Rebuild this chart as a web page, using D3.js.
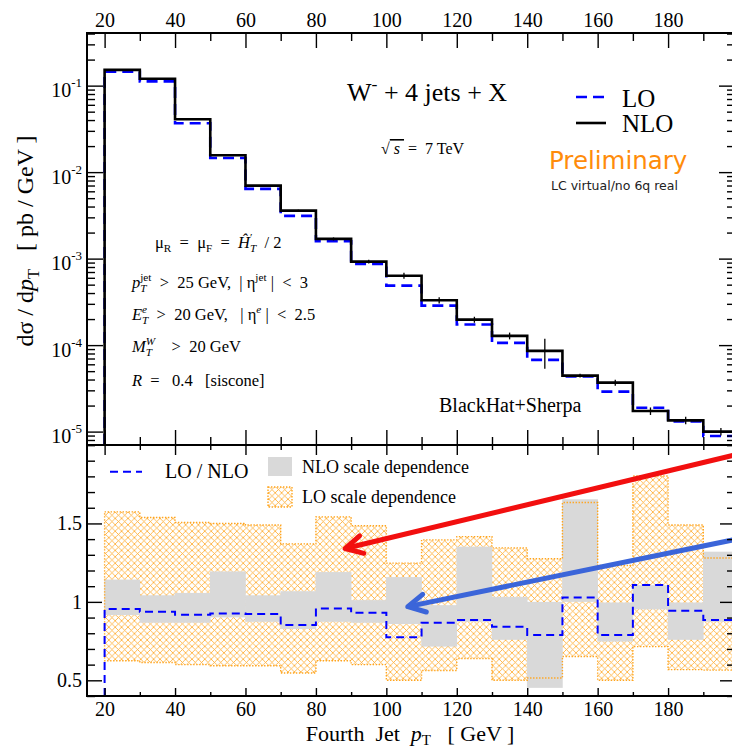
<!DOCTYPE html>
<html>
<head>
<meta charset="utf-8">
<script src="https://cdn.jsdelivr.net/npm/d3@7"></script>
<style>
  body { margin: 0; background: #fff; }
  svg text { font-family: "Liberation Serif", "Times New Roman", serif; fill: #000; }
  .tick line { stroke: #000; stroke-width: 1.4; }
  .domain { display: none; }
</style>
</head>
<body>
<svg id="chart" width="732" height="750"></svg>
<script>
// bin edges of the fourth jet pT histogram (GeV)
const binEdges = [20, 30, 40, 50, 60, 70, 80, 90, 100, 110, 120, 130, 140, 150, 160, 170, 180, 190, 200];

// upper panel, dsigma/dpT in pb/GeV
const nloXs = [0.152, 0.120, 0.0408, 0.01567, 0.00698, 0.00359, 0.00169, 0.000923, 0.000635,
  0.000330, 0.000197, 0.000128, 8.57e-5, 4.44e-5, 3.68e-5, 1.73e-5, 1.35e-5, 1.0e-5];
const loXs = [0.145, 0.112, 0.0367, 0.01459, 0.0064, 0.00312, 0.00159, 0.000869, 0.000487,
  0.000286, 0.000173, 0.000106, 6.75e-5, 4.35e-5, 2.90e-5, 1.89e-5, 1.31e-5, 8.9e-6];
// relative statistical error of NLO
const nloErr = [0.01, 0.01, 0.01, 0.01, 0.02, 0.02, 0.04, 0.05, 0.08,
  0.08, 0.08, 0.09, 0.38, 0.05, 0.08, 0.1, 0.1, 0.1];

// lower panel, ratios to NLO
const ratioLoNlo = [0.954, 0.937, 0.918, 0.926, 0.922, 0.853, 0.958, 0.93, 0.775,
  0.867, 0.884, 0.842, 0.789, 1.028, 0.789, 1.108, 0.943, 0.884];
const nloBandHi = [1.142, 1.042, 1.057, 1.194, 1.042, 1.068, 1.19, 1.011, 1.158,
  0.979, 1.352, 1.032, 1.0, 1.654, 0.996, 1.106, 0.996, 1.32];
const nloBandLo = [0.916, 0.867, 0.867, 0.901, 0.873, 0.827, 0.873, 0.867, 0.859,
  0.715, 0.873, 0.758, 0.452, 1.0, 0.747, 0.952, 0.758, 0.873];
const loBandHi = [1.574, 1.538, 1.506, 1.5, 1.49, 1.37, 1.542, 1.485, 1.247,
  1.395, 1.416, 1.344, 1.275, 1.633, 1.232, 1.802, 1.49, 1.28];
const loBandLo = [0.625, 0.614, 0.6, 0.593, 0.593, 0.547, 0.625, 0.6, 0.5,
  0.563, 0.639, 0.5, 0.515, 0.652, 0.5, 0.715, 0.568, 0.565];

// axis ticks
const xMajor = [20, 40, 60, 80, 100, 120, 140, 160, 180];
const xMinor = [30, 50, 70, 90, 110, 130, 150, 170, 190];
const logDecades = [-5, -4, -3, -2, -1];
const ratioMajor = [0.5, 1, 1.5];

// annotation arrows, in (GeV, ratio)
const arrows = [
  {from: [199.5, 1.94], to: [88.3, 1.34], color: '#f20f0f', id: 'arrRed'},
  {from: [199.5, 1.40], to: [106.1, 0.97], color: '#3b65d9', id: 'arrBlue'}
];

const orange = '#ffa51f';
const frame = {left: 87, right: 735, top: 33, mid: 445, bottom: 696};

const svg = d3.select('#chart');
const defs = svg.append('defs');

const pat = defs.append('pattern').attr('id', 'hatch')
  .attr('patternUnits', 'userSpaceOnUse').attr('width', 6.4).attr('height', 6.4);
pat.append('path').attr('d', 'M0,0L6.4,6.4M6.4,0L0,6.4')
  .attr('stroke', orange).attr('stroke-width', 0.75).attr('fill', 'none');

arrows.forEach(a => {
  defs.append('marker').attr('id', a.id)
    .attr('markerUnits', 'userSpaceOnUse').attr('viewBox', '-22 -12 26 24')
    .attr('markerWidth', 26).attr('markerHeight', 24)
    .attr('refX', 0).attr('refY', 0).attr('orient', 'auto')
    .append('path').attr('d', 'M-17,-9L0,0L-17,9')
    .attr('fill', 'none').attr('stroke', a.color)
    .attr('stroke-width', 5).attr('stroke-linecap', 'round').attr('stroke-linejoin', 'round');
});

defs.append('clipPath').attr('id', 'clipUp').append('rect')
  .attr('x', frame.left).attr('y', frame.top)
  .attr('width', frame.right - frame.left).attr('height', frame.mid - frame.top);
defs.append('clipPath').attr('id', 'clipLow').append('rect')
  .attr('x', frame.left).attr('y', frame.mid)
  .attr('width', frame.right - frame.left).attr('height', frame.bottom - frame.mid);

const x = d3.scaleLinear().domain([15, 199]).range([frame.left, frame.right]);
const yTop = d3.scaleLog().domain([7.0e-6, 0.406]).range([frame.mid, frame.top]);
const yLow = d3.scaleLinear().domain([0.4, 2.0]).range([frame.bottom, frame.mid]);

const bins = binEdges.slice(0, -1).map((x0, i) => ({
  x0, x1: binEdges[i + 1], nlo: nloXs[i], lo: loXs[i], err: nloErr[i],
  ratio: ratioLoNlo[i], nHi: nloBandHi[i], nLo: nloBandLo[i], lHi: loBandHi[i], lLo: loBandLo[i]
}));
const lastEdge = binEdges[binEdges.length - 1];

// step points: start from the panel floor, close at last edge
const stepPts = (vals, floor) => [[binEdges[0], floor]]
  .concat(vals.map((v, i) => [binEdges[i], v]))
  .concat([[lastEdge, vals[vals.length - 1]]]);

// ---------- upper panel
const up = svg.append('g').attr('clip-path', 'url(#clipUp)');
const lineUp = d3.line().x(d => x(d[0])).y(d => yTop(d[1])).curve(d3.curveStepAfter);

up.append('path').attr('d', lineUp(stepPts(loXs, yTop.domain()[0])))
  .attr('fill', 'none').attr('stroke', '#0000ff').attr('stroke-width', 2.6)
  .attr('stroke-dasharray', '11,6');
up.append('path').attr('d', lineUp(stepPts(nloXs, yTop.domain()[0])))
  .attr('fill', 'none').attr('stroke', '#000').attr('stroke-width', 2.6);
up.selectAll('line.err').data(bins).join('line').attr('class', 'err')
  .attr('x1', d => x((d.x0 + d.x1) / 2)).attr('x2', d => x((d.x0 + d.x1) / 2))
  .attr('y1', d => yTop(d.nlo * (1 + d.err))).attr('y2', d => yTop(d.nlo * (1 - d.err)))
  .attr('stroke', '#000').attr('stroke-width', 1.3);

// ---------- lower panel
const low = svg.append('g').attr('clip-path', 'url(#clipLow)');
low.selectAll('rect.loband').data(bins).join('rect').attr('class', 'loband')
  .attr('x', d => x(d.x0)).attr('width', d => x(d.x1) - x(d.x0))
  .attr('y', d => yLow(d.lHi)).attr('height', d => yLow(d.lLo) - yLow(d.lHi))
  .attr('fill', 'url(#hatch)');
low.selectAll('rect.nloband').data(bins).join('rect').attr('class', 'nloband')
  .attr('x', d => x(d.x0) - 0.3).attr('width', d => x(d.x1) - x(d.x0) + 0.6)
  .attr('y', d => yLow(d.nHi)).attr('height', d => yLow(d.nLo) - yLow(d.nHi))
  .attr('fill', '#d9d9d9');

const bandPts = bins.map(d => [d.x0, d.lLo, d.lHi]).concat([[lastEdge, loBandLo[loBandLo.length - 1], loBandHi[loBandHi.length - 1]]]);
low.append('path')
  .attr('d', d3.area().x(d => x(d[0])).y0(d => yLow(d[1])).y1(d => yLow(d[2])).curve(d3.curveStepAfter)(bandPts))
  .attr('fill', 'none').attr('stroke', orange).attr('stroke-width', 1.4).attr('stroke-dasharray', '1.4,1.6');

const lineLow = d3.line().x(d => x(d[0])).y(d => yLow(d[1])).curve(d3.curveStepAfter);
low.append('path').attr('d', lineLow(stepPts(ratioLoNlo, yLow.domain()[0])))
  .attr('fill', 'none').attr('stroke', '#0000ff').attr('stroke-width', 2)
  .attr('stroke-dasharray', '8,5');

svg.selectAll('line.arrow').data(arrows).join('line').attr('class', 'arrow')
  .attr('x1', d => x(d.from[0])).attr('y1', d => yLow(d.from[1]))
  .attr('x2', d => x(d.to[0])).attr('y2', d => yLow(d.to[1]))
  .attr('stroke', d => d.color).attr('stroke-width', 5)
  .attr('marker-end', d => `url(#${d.id})`);

// ---------- axes
const axisG = (ty, tx) => svg.append('g').attr('transform', `translate(${tx || 0},${ty || 0})`);
const styleLabels = g => g.attr('font-size', 20).attr('font-family', null);

axisG(frame.top).call(d3.axisTop(x).tickValues(xMajor).tickSize(-15).tickPadding(6).tickFormat(d3.format('d'))).call(styleLabels);
axisG(frame.top).call(d3.axisTop(x).tickValues(xMinor).tickSize(-8).tickFormat(''));
axisG(frame.mid).call(d3.axisBottom(x).tickValues(xMajor).tickSize(-15).tickFormat(''));
axisG(frame.mid).call(d3.axisBottom(x).tickValues(xMinor).tickSize(-8).tickFormat(''));
axisG(frame.mid).call(d3.axisTop(x).tickValues(xMajor).tickSize(-10).tickFormat(''));
axisG(frame.mid).call(d3.axisTop(x).tickValues(xMinor).tickSize(-5).tickFormat(''));
axisG(frame.bottom).call(d3.axisBottom(x).tickValues(xMajor).tickSize(-8).tickPadding(6).tickFormat(d3.format('d'))).call(styleLabels);
axisG(frame.bottom).call(d3.axisBottom(x).tickValues(xMinor).tickSize(-4).tickFormat(''));

const logTicks = yTop.ticks();
const logMajor = logTicks.filter(v => Math.abs(Math.log10(v) - Math.round(Math.log10(v))) < 1e-6);
const logMinor = logTicks.filter(v => !logMajor.includes(v));
[[frame.left, d3.axisLeft], [frame.right, d3.axisRight]].forEach(([tx, ax]) => {
  axisG(0, tx).call(ax(yTop).tickValues(logMajor).tickSize(-16).tickFormat(''));
  axisG(0, tx).call(ax(yTop).tickValues(logMinor).tickSize(-8).tickFormat(''));
  axisG(0, tx).call(ax(yLow).tickValues(ratioMajor).tickSize(-15).tickFormat(''));
  axisG(0, tx).call(ax(yLow).tickValues(yLow.ticks(16).filter(v => !ratioMajor.includes(v))).tickSize(-8).tickFormat(''));
});
axisG(0, frame.left).call(d3.axisLeft(yLow).tickValues(ratioMajor).tickSize(0).tickPadding(5)
  .tickFormat(d => d === 1 ? '1' : d3.format('.1f')(d))).call(styleLabels);

const logLab = svg.append('g');
logDecades.forEach(k => {
  const t = logLab.append('text').attr('x', 82).attr('y', yTop(Math.pow(10, k)) + 11.5)
    .attr('text-anchor', 'end').attr('font-size', 20);
  t.append('tspan').text('10');
  t.append('tspan').text(`-${-k}`).attr('font-size', 13).attr('dy', -10);
});

// frames
svg.append('rect').attr('x', frame.left).attr('y', frame.top)
  .attr('width', frame.right - frame.left).attr('height', frame.mid - frame.top)
  .attr('fill', 'none').attr('stroke', '#000').attr('stroke-width', 2);
svg.append('rect').attr('x', frame.left).attr('y', frame.mid)
  .attr('width', frame.right - frame.left).attr('height', frame.bottom - frame.mid)
  .attr('fill', 'none').attr('stroke', '#000').attr('stroke-width', 2);

// ---------- texts with sub/superscripts
function rich(g, tx, ty, size, parts, anchor, subShift) {
  const text = g.append('text').attr('x', tx).attr('y', ty)
    .attr('font-size', size).attr('text-anchor', anchor || 'start')
    .style('white-space', 'pre');
  const small = size * 0.68;
  let lift = 0, carry = 0;
  const add = (str, dy, fs, it) => {
    const ts = text.append('tspan').text(str).attr('dy', dy);
    if (fs) ts.attr('font-size', fs);
    if (it) ts.attr('font-style', 'italic');
    if (carry) ts.attr('dx', carry);
    carry = 0;
    return ts;
  };
  parts.forEach(p => {
    if (typeof p === 'string') p = {t: p};
    if (p.t !== undefined) {
      const ts = add(p.t, -lift, null, p.it);
      if (p.deco) ts.style('text-decoration', p.deco);
      lift = 0;
      return;
    }
    let w1 = 0;
    if (p.sup !== undefined) {
      const upY = -0.42 * size;
      const ts = add(p.sup, upY - lift, small, p.itSup);
      lift = upY;
      w1 = ts.node().getComputedTextLength();
    }
    if (p.sub !== undefined) {
      const downY = (subShift || 0.27) * size;
      const ts = add(p.sub, downY - lift, small, p.itSub);
      if (w1) ts.attr('dx', -w1);
      lift = downY;
      const w2 = ts.node().getComputedTextLength();
      if (w1 > w2) carry = w1 - w2;
    }
  });
  return text;
}

const ann = svg.append('g');
rich(ann, 347, 101, 26, ['W', {sup: '-'}, ' + 4 jets + X']);
rich(ann, 381, 154, 16, ['√', {t: ' s ', it: true, deco: 'overline'}, ' =  7 TeV']);

// upper legend
ann.append('line').attr('x1', 576).attr('x2', 606).attr('y1', 97).attr('y2', 97)
  .attr('stroke', '#0000ff').attr('stroke-width', 2.6).attr('stroke-dasharray', '11,6');
ann.append('line').attr('x1', 576).attr('x2', 606).attr('y1', 123).attr('y2', 123)
  .attr('stroke', '#000').attr('stroke-width', 2.6);
ann.append('text').attr('x', 622).attr('y', 106.5).attr('font-size', 25).text('LO');
ann.append('text').attr('x', 622).attr('y', 132).attr('font-size', 25).text('NLO');

ann.append('text').attr('x', 549).attr('y', 169).attr('font-size', 24.5)
  .style('font-family', '"DejaVu Sans", sans-serif').style('fill', '#ff8c0a').text('Preliminary');
ann.append('text').attr('x', 551).attr('y', 190).attr('font-size', 12.5)
  .style('font-family', '"DejaVu Sans", sans-serif').style('fill', '#222').text('LC virtual/no 6q real');

rich(ann, 155, 248, 16.5, ['μ', {sub: 'R'}, '  =  μ', {sub: 'F'}, '  =  ', {t: 'Ĥ', it: true},
  {sub: 'T', sup: '\u2032', itSub: true}, '  / 2']);
rich(ann, 132, 288, 16.5, [{t: 'p', it: true}, {sub: 'T', sup: 'jet', itSub: true},
  '  >  25 GeV,  | η', {sup: 'jet'}, ' |  <  3']);
rich(ann, 132, 320, 16.5, [{t: 'E', it: true}, {sub: 'T', sup: 'e', itSub: true, itSup: true},
  '  >  20 GeV,   | η', {sup: 'e', itSup: true}, ' |  <  2.5']);
rich(ann, 132, 352, 16.5, [{t: 'M', it: true}, {sub: 'T', sup: 'W', itSub: true, itSup: true},
  '    >  20 GeV']);
rich(ann, 132, 386, 16.5, [{t: 'R', it: true}, '  =   0.4   [siscone]']);

ann.append('text').attr('x', 439).attr('y', 412).attr('font-size', 20).text('BlackHat+Sherpa');

// lower legend
ann.append('line').attr('x1', 110).attr('x2', 142).attr('y1', 471.7).attr('y2', 471.7)
  .attr('stroke', '#0000ff').attr('stroke-width', 2).attr('stroke-dasharray', '8,5');
ann.append('text').attr('x', 165).attr('y', 478).attr('font-size', 20).text('LO / NLO');
ann.append('rect').attr('x', 268).attr('y', 457).attr('width', 24).attr('height', 19).attr('fill', '#d9d9d9');
ann.append('text').attr('x', 302).attr('y', 473).attr('font-size', 18).text('NLO scale dependence');
ann.append('rect').attr('x', 268).attr('y', 487).attr('width', 24).attr('height', 20)
  .attr('fill', 'url(#hatch)').attr('stroke', orange).attr('stroke-width', 1.4).attr('stroke-dasharray', '1.4,1.6');
ann.append('text').attr('x', 302).attr('y', 503).attr('font-size', 18).text('LO scale dependence');

// axis titles
rich(ann, 0, 0, 24, ['dσ / d', {t: 'p', it: true}, {sub: 'T'}, '   [ pb / GeV ]'], 'middle')
  .attr('transform', 'translate(33,241) rotate(-90)');
rich(ann, 410, 741, 22, ['Fourth  Jet  ', {t: 'p', it: true}, {sub: 'T'}, '   [ GeV ]'], 'middle', 0.18);
</script>
</body>
</html>
